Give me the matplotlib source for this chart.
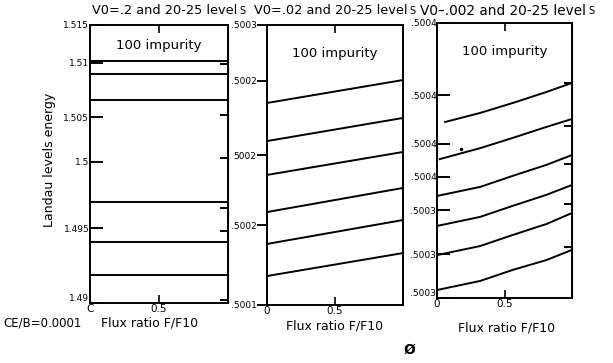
import matplotlib
matplotlib.use("Agg")
import matplotlib.pyplot as plt

W, H = 613, 363

# ---- panel 1: V0=.2, flat levels
P1_X = [0.0, 1.0]
P1_LEVELS = [1.5118, 1.5106, 1.5083, 1.4991, 1.4955, 1.4925]
P1_YTICKS = [1.49, 1.4967, 1.5027, 1.5067, 1.5116, 1.515]
P1_YLABELS = ["1.49", "1.495", "1.5", "1.505", "1.51", "1.515"]
P1_RTICKS = [1.4903, 1.4965, 1.4985, 1.5030, 1.5069, 1.5115]

# ---- panel 2: V0=.02, nearly straight rising levels
P2_X = [0.0, 1.0]
P2_LEVELS = [
    [0.5002443, 0.5002607],
    [0.5002171, 0.5002336],
    [0.5001929, 0.5002093],
    [0.5001664, 0.5001836],
    [0.5001436, 0.5001607],
    [0.5001207, 0.5001371],
]
P2_YTICKS = [0.5001, 0.500157, 0.500207, 0.50026, 0.5003]
P2_YLABELS = [".5001", ".5002", "5002", ".5002", ".5003"]

# ---- panel 3: V0=.002, gently curved levels
P3_X = [
    [0.06, 0.32, 0.56, 0.81, 1.0],
    [0.02, 0.32, 0.56, 0.81, 1.0],
    [0.0, 0.32, 0.56, 0.81, 1.0],
    [0.0, 0.32, 0.56, 0.81, 1.0],
    [0.0, 0.32, 0.56, 0.81, 1.0],
    [0.0, 0.32, 0.56, 0.81, 1.0],
]
P3_LEVELS = [
    [0.5003640, 0.5003673, 0.5003709, 0.5003749, 0.5003782],
    [0.5003505, 0.5003545, 0.5003582, 0.5003622, 0.5003651],
    [0.5003371, 0.5003404, 0.5003444, 0.5003484, 0.5003520],
    [0.5003262, 0.5003295, 0.5003335, 0.5003375, 0.5003411],
    [0.5003156, 0.5003189, 0.5003229, 0.5003269, 0.5003309],
    [0.5003029, 0.5003062, 0.5003102, 0.5003138, 0.5003175],
]
P3_DOT = (0.18, 0.5003542)
P3_YTICKS = [0.5003, 0.5003160, 0.5003320, 0.5003440, 0.5003560, 0.5003738, 0.5004]
P3_YLABELS = [".5003", ".5003", ".5003", ".5004", ".5004", ".5004", ".5004"]
P3_RTICKS = [0.5003185, 0.5003342, 0.5003487, 0.5003625, 0.5003782]

TITLES = ["V0=.2 and 20-25 level", "V0=.02 and 20-25 level", "V0\u2013.002 and 20-25 level"]
X_TICKLABELS = [["C", "0.5", ""], ["0", "0.5", ""], ["0", "0.5", ""]]

plt.rcParams["font.family"] = "DejaVu Sans"
fig = plt.figure(figsize=(W / 100, H / 100), dpi=100)


def box(l, r, t, b):
    return [l / W, 1 - b / H, (r - l) / W, (b - t) / H]


def fx(x):
    return x / W


def fy(y):
    return 1 - y / H


axes = [
    fig.add_axes(box(90, 228, 25, 303)),
    fig.add_axes(box(267, 403, 25, 305)),
    fig.add_axes(box(437, 572, 23, 298)),
]
ydir = ["in", "out", "in"]
imp_y = [0.95, 0.92, 0.92]

for ax, d, xl, iy in zip(axes, ydir, X_TICKLABELS, imp_y):
    for s in ax.spines.values():
        s.set_linewidth(1.4)
    ax.set_xlim(0, 1)
    ax.set_xticks([0, 0.5, 1])
    ax.set_xticklabels(xl, fontsize=7.5)
    ax.tick_params(axis="x", direction="in", top=True, length=6, width=1.2, pad=0.5)
    ax.tick_params(axis="y", direction=d, length=9 if d == "in" else 7, width=1.4,
                   labelsize=6.5, pad=0.5)
    ax.text(0.5, iy, "100 impurity", transform=ax.transAxes, ha="center",
            va="top", fontsize=9.5)

ax1, ax2, ax3 = axes

for lev in P1_LEVELS:
    ax1.plot(P1_X, [lev, lev], color="black", lw=1.4)
ax1.set_ylim(1.49, 1.515)
ax1.set_yticks(P1_YTICKS)
ax1.set_yticklabels(P1_YLABELS)
r1 = ax1.secondary_yaxis("right")
r1.set_yticks(P1_RTICKS)
r1.set_yticklabels([])
r1.tick_params(direction="in", length=6, width=1.4)
r1.spines["right"].set_linewidth(0.8)

for ys in P2_LEVELS:
    ax2.plot(P2_X, ys, color="black", lw=1.4)
ax2.set_ylim(0.5001, 0.5003)
ax2.set_yticks(P2_YTICKS)
ax2.set_yticklabels(P2_YLABELS)

for xs, ys in zip(P3_X, P3_LEVELS):
    ax3.plot(xs, ys, color="black", lw=1.4)
ax3.plot(*P3_DOT, "k.", ms=3)
ax3.set_ylim(0.5003, 0.5004)
ax3.set_yticks(P3_YTICKS)
ax3.set_yticklabels(P3_YLABELS)
r3 = ax3.secondary_yaxis("right")
r3.set_yticks(P3_RTICKS)
r3.set_yticklabels([])
r3.tick_params(direction="in", length=6, width=1.4)

# bottom y labels sit just above the x=0 labels, as in the scan
for ax in (ax1, ax3):
    ax.get_yticklabels()[0].set_va("bottom")

# titles (small trailing "S" as in the scan)
fig.canvas.draw()
for x0, t, fs in zip([92, 254, 420], TITLES, [9.3, 9.3, 9.8]):
    tx = fig.text(fx(x0), fy(11), t, fontsize=fs, va="center", ha="left")
    bb = tx.get_window_extent(renderer=fig.canvas.get_renderer())
    fig.text(bb.x1 / W + 2 / W, fy(11), "S", fontsize=7, va="center", ha="left")

fig.text(fx(50), fy(160), "Landau levels energy", rotation=90, fontsize=9,
         ha="center", va="center")
fig.text(fx(3), fy(323), "CE/B=0.0001", fontsize=8.5, ha="left", va="center")
for xc, yc in [(150, 323), (335, 326), (507, 328)]:
    fig.text(fx(xc), fy(yc), "Flux ratio F/F10", fontsize=9, ha="center",
             va="center")
fig.text(fx(410), fy(350), "\u00d8", fontsize=10, fontweight="bold", ha="center",
         va="center")

fig.savefig("out.png", dpi=100)
